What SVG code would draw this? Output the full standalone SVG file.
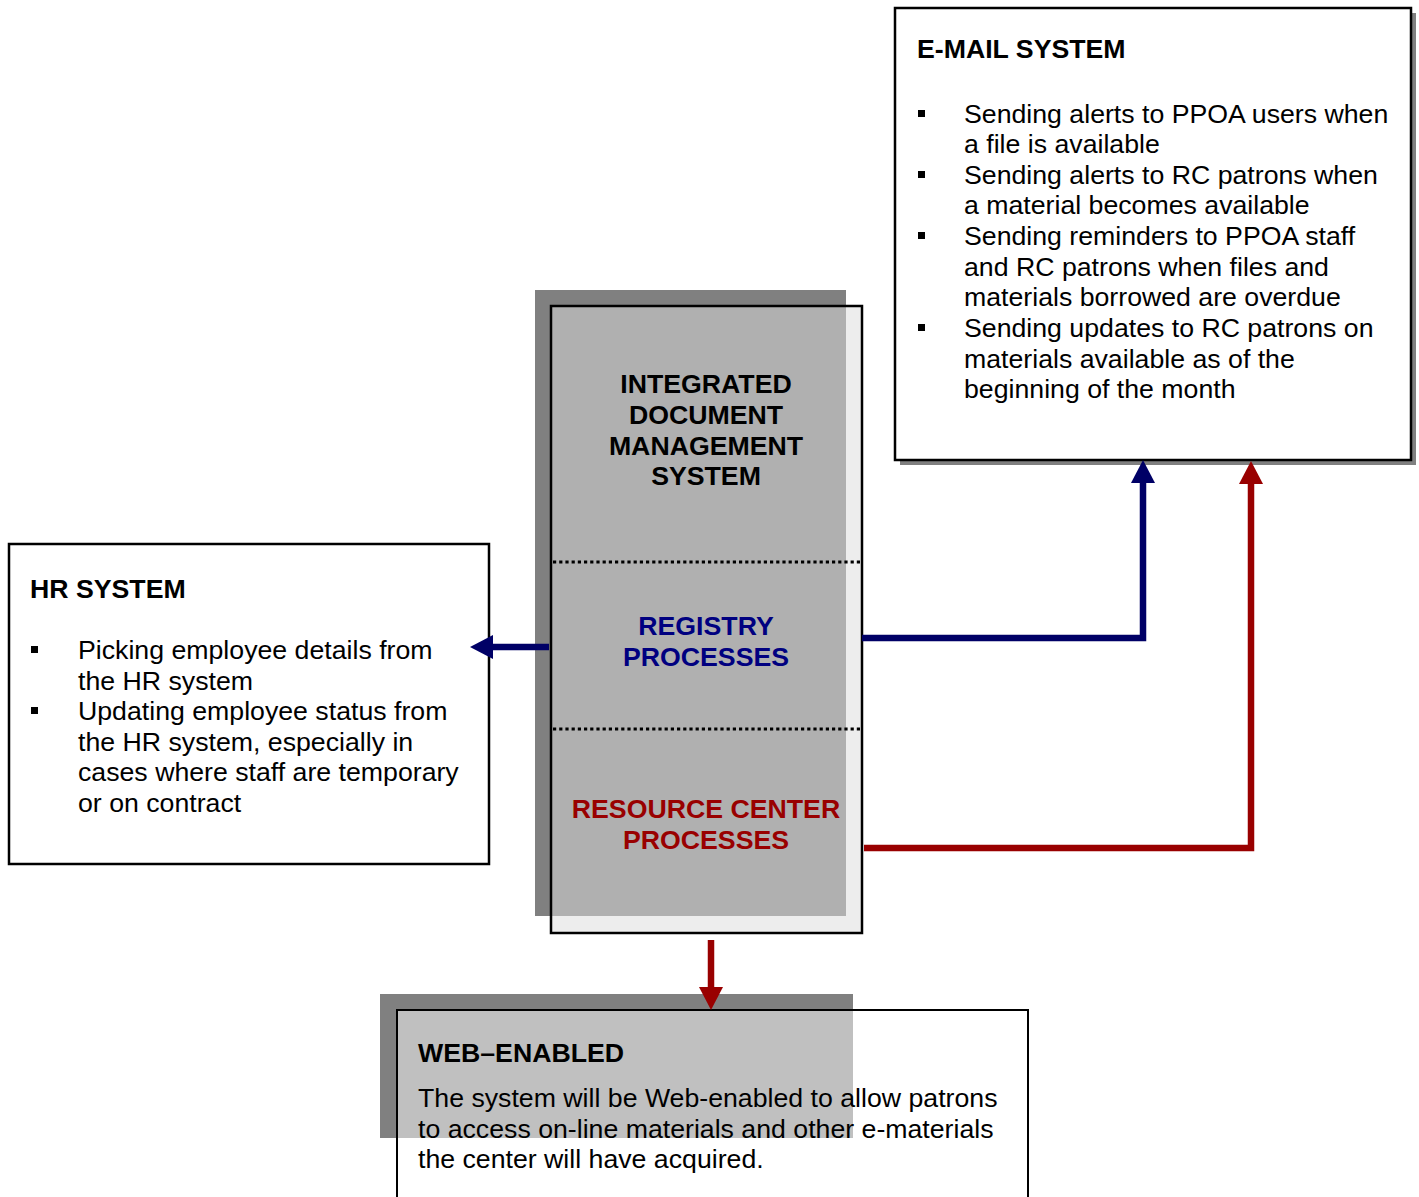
<svg xmlns="http://www.w3.org/2000/svg" width="1419" height="1197" viewBox="0 0 1419 1197">
  <style>
    text { font-family: "Liberation Sans", Arial, sans-serif; font-size: 26.7px; fill: #000; }
    .title { font-weight: bold; }
    .center { font-weight: bold; text-anchor: middle; }
    .blue { fill: #000080; }
    .red { fill: #990000; }
    .frame { stroke: #000; stroke-width: 2.5; }
    .shadow { fill: #808080; }
    .divider { stroke: #000; stroke-width: 3; stroke-dasharray: 3.2 3; }
    .bullet { fill: #000; }
    .link { fill: none; stroke-width: 6.5; stroke-linejoin: miter; }
    .link-blue { stroke: #000066; marker-end: url(#head-blue); }
    .link-red { stroke: #990000; marker-end: url(#head-red); }
  </style>
  <defs>
    <marker id="head-blue" markerUnits="userSpaceOnUse" viewBox="0 0 23 24" refX="2" refY="12" markerWidth="23" markerHeight="24" orient="auto">
      <path d="M0,0 L23,12 L0,24 Z" fill="#000066"/>
    </marker>
    <marker id="head-red" markerUnits="userSpaceOnUse" viewBox="0 0 23 24" refX="2" refY="12" markerWidth="23" markerHeight="24" orient="auto">
      <path d="M0,0 L23,12 L0,24 Z" fill="#990000"/>
    </marker>
  </defs>

  <rect width="1419" height="1197" fill="#fff"/>

  <!-- E-mail system -->
  <g id="email-system">
    <rect class="shadow" x="900" y="13" width="516" height="452"/>
    <rect class="frame" x="895" y="8" width="516" height="452" fill="#fff"/>
    <text class="title" x="917" y="58">E-MAIL SYSTEM</text>
    <rect class="bullet" x="918" y="110" width="7" height="7"/>
    <rect class="bullet" x="918" y="171" width="7" height="7"/>
    <rect class="bullet" x="918" y="232" width="7" height="7"/>
    <rect class="bullet" x="918" y="324" width="7" height="7"/>
    <text x="964" y="123">Sending alerts to PPOA users when</text>
    <text x="964" y="153">a file is available</text>
    <text x="964" y="184">Sending alerts to RC patrons when</text>
    <text x="964" y="214">a material becomes available</text>
    <text x="964" y="245">Sending reminders to PPOA staff</text>
    <text x="964" y="276">and RC patrons when files and</text>
    <text x="964" y="306">materials borrowed are overdue</text>
    <text x="964" y="337">Sending updates to RC patrons on</text>
    <text x="964" y="368">materials available as of the</text>
    <text x="964" y="398">beginning of the month</text>
  </g>

  <!-- HR system -->
  <g id="hr-system">
    <rect class="frame" x="9" y="544" width="480" height="320" fill="#fff" stroke-width="2"/>
    <text class="title" x="30" y="598">HR SYSTEM</text>
    <rect class="bullet" x="31" y="646" width="7" height="7"/>
    <rect class="bullet" x="31" y="707" width="7" height="7"/>
    <text x="78" y="659">Picking employee details from</text>
    <text x="78" y="690">the HR system</text>
    <text x="78" y="720">Updating employee status from</text>
    <text x="78" y="751">the HR system, especially in</text>
    <text x="78" y="781">cases where staff are temporary</text>
    <text x="78" y="812">or on contract</text>
  </g>

  <!-- Integrated document management system -->
  <g id="idms">
    <rect class="shadow" x="535" y="290" width="311" height="626"/>
    <rect x="551" y="306" width="311" height="627" fill="#dcdcdc" fill-opacity="0.52"/>
    <rect class="frame" x="551" y="306" width="311" height="627" fill="none"/>
    <line class="divider" x1="553" y1="562" x2="860" y2="562"/>
    <line class="divider" x1="553" y1="729" x2="860" y2="729"/>
    <text class="center" x="706" y="393">INTEGRATED</text>
    <text class="center" x="706" y="424">DOCUMENT</text>
    <text class="center" x="706" y="455">MANAGEMENT</text>
    <text class="center" x="706" y="485">SYSTEM</text>
    <text class="center blue" x="706" y="635">REGISTRY</text>
    <text class="center blue" x="706" y="666">PROCESSES</text>
    <text class="center red" x="706" y="818">RESOURCE CENTER</text>
    <text class="center red" x="706" y="849">PROCESSES</text>
  </g>

  <!-- Web-enabled -->
  <g id="web-enabled">
    <rect class="shadow" x="380" y="994" width="473" height="144"/>
    <rect x="397" y="1010" width="631" height="220" fill="#fff" fill-opacity="0.5" stroke="#000" stroke-width="2"/>
    <text class="title" x="418" y="1062">WEB–ENABLED</text>
    <text x="418" y="1107">The system will be Web-enabled to allow patrons</text>
    <text x="418" y="1138">to access on-line materials and other e-materials</text>
    <text x="418" y="1168">the center will have acquired.</text>
  </g>

  <!-- Connectors -->
  <g id="connectors">
    <polyline class="link link-blue" points="862,638 1143,638 1143,481"/>
    <polyline class="link link-red" points="864,848 1251,848 1251,482"/>
    <line class="link link-blue" x1="549" y1="647" x2="491" y2="647"/>
    <line class="link link-red" x1="711" y1="940" x2="711" y2="989"/>
  </g>
</svg>
